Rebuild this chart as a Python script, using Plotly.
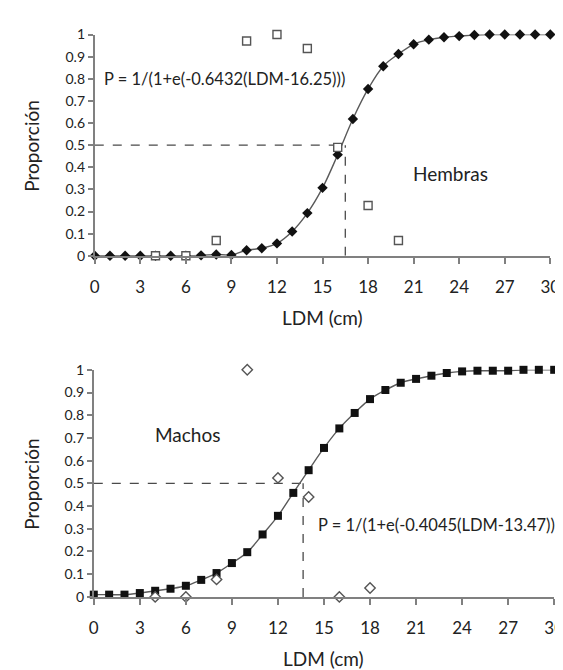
import plotly.graph_objects as go

# ---- data ----
ldm = list(range(0, 31))
hembras_fit = [0, 0, 0, 0, 0, 0, 0, 0.002, 0.006, 0.004, 0.025, 0.034, 0.056, 0.11, 0.193,
               0.307, 0.457, 0.618, 0.754, 0.857, 0.912, 0.956, 0.977, 0.988, 0.993, 0.998,
               1.0, 1.0, 1.0, 1.0, 1.0]
hembras_obs_x = [4, 6, 8, 10, 12, 14, 16, 18, 20]
hembras_obs_y = [0, 0, 0.069, 0.971, 1.0, 0.937, 0.49, 0.227, 0.069]
hembras_l50 = 16.5

machos_fit = [0.01, 0.01, 0.01, 0.017, 0.027, 0.036, 0.049, 0.075, 0.105, 0.149, 0.197,
              0.275, 0.357, 0.458, 0.558, 0.656, 0.742, 0.81, 0.871, 0.911, 0.943, 0.96,
              0.974, 0.986, 0.993, 0.996, 0.996, 0.996, 1.0, 1.0, 1.0]
machos_obs_x = [4, 6, 8, 10, 12, 14, 16, 18]
machos_obs_y = [0, 0, 0.077, 1.0, 0.524, 0.44, 0, 0.039]
machos_l50 = 13.64

x_ticks = [0, 3, 6, 9, 12, 15, 18, 21, 24, 27, 30]
y_ticks = [0, 0.1, 0.2, 0.3, 0.4, 0.5, 0.6, 0.7, 0.8, 0.9, 1]
y_ticktext = ["0", "0.1", "0.2", "0.3", "0.4", "0.5", "0.6", "0.7", "0.8", "0.9", "1"]

FONT = "Lato"
W, H = 563, 670
AX = "#808080"
LINE = "#4a4a4a"
TXT = "#222222"

fig = go.Figure()

def add_panel(xa, ya, fit, fit_symbol, fit_size, obs_x, obs_y, obs_symbol, obs_size, l50):
    # dashed reference lines
    fig.add_trace(go.Scatter(x=[0, l50], y=[0.5, 0.5], mode="lines",
                             line=dict(color=LINE, width=1.3, dash="dash"),
                             xaxis=xa, yaxis=ya, hoverinfo="skip", cliponaxis=False))
    fig.add_trace(go.Scatter(x=[l50, l50], y=[0, 0.5], mode="lines",
                             line=dict(color=LINE, width=1.3, dash="dash"),
                             xaxis=xa, yaxis=ya, hoverinfo="skip", cliponaxis=False))
    # fitted curve
    fig.add_trace(go.Scatter(x=ldm, y=fit, mode="lines+markers",
                             line=dict(color="#5a5a5a", width=1.4, shape="spline"),
                             marker=dict(symbol=fit_symbol, size=fit_size, color="#111111",
                                         line=dict(width=0)),
                             xaxis=xa, yaxis=ya, cliponaxis=False))
    # observed
    fig.add_trace(go.Scatter(x=obs_x, y=obs_y, mode="markers",
                             marker=dict(symbol=obs_symbol, size=obs_size, color="white",
                                         line=dict(color="#555555", width=1.4)),
                             xaxis=xa, yaxis=ya, cliponaxis=False))

add_panel("x", "y", hembras_fit, "diamond", 8, hembras_obs_x, hembras_obs_y, "square", 8,
          hembras_l50)
add_panel("x2", "y2", machos_fit, "square", 8, machos_obs_x, machos_obs_y, "diamond", 8,
          machos_l50)

def px_x(p):
    return p / W

def px_y(p):
    return 1 - p / H

xcommon = dict(range=[0, 30], tickvals=x_ticks, showline=True, linecolor=AX, linewidth=1.8,
               ticks="outside", ticklen=6, tickcolor=AX, tickwidth=1.6, showgrid=False,
               zeroline=False, ticklabelstandoff=9,
               tickfont=dict(family=FONT, size=17, color=TXT))
ycommon = dict(range=[0, 1], tickvals=y_ticks, ticktext=y_ticktext, showline=True,
               linecolor=AX, linewidth=1.8, ticks="outside", ticklen=5, tickcolor=AX,
               tickwidth=1.6, showgrid=False, zeroline=False,
               tickfont=dict(family=FONT, size=14, color=TXT))

top = dict(x0=84, x1=552, y0=18, y1=245)
bot = dict(x0=83, x1=556, y0=362, y1=595)

fig.update_layout(
    width=W, height=H, margin=dict(l=0, r=0, t=0, b=0),
    paper_bgcolor="white", plot_bgcolor="white", showlegend=False,
    xaxis=dict(domain=[px_x(top["x0"]), px_x(top["x1"])], anchor="y", **xcommon),
    yaxis=dict(domain=[px_y(top["y1"]), px_y(top["y0"])], anchor="x", **ycommon),
    xaxis2=dict(domain=[px_x(bot["x0"]), px_x(bot["x1"])], anchor="y2", **xcommon),
    yaxis2=dict(domain=[px_y(bot["y1"]), px_y(bot["y0"])], anchor="x2", **ycommon),
)

anns = []
title_font = dict(family=FONT, size=19, color=TXT)
txt_font = dict(family=FONT, size=16.5, color=TXT)
# axis titles
for b in (top, bot):
    anns.append(dict(text="LDM (cm)", xref="paper", yref="paper",
                     x=px_x((b["x0"] + b["x1"]) / 2), y=px_y(b["y1"] + 63),
                     showarrow=False, font=title_font, xanchor="center", yanchor="middle"))
    anns.append(dict(text="Proporción", xref="paper", yref="paper",
                     x=px_x(19), y=px_y((b["y0"] + b["y1"]) / 2), textangle=-90,
                     showarrow=False, font=title_font, xanchor="center", yanchor="middle"))
# in-plot labels
anns.append(dict(text="P = 1/(1+e(-0.6432(LDM-16.25)))", xref="x", yref="y", x=0.45, y=0.8,
                 xanchor="left", yanchor="middle", showarrow=False, font=txt_font))
anns.append(dict(text="Hembras", xref="x", yref="y", x=23.4, y=0.37,
                 xanchor="center", yanchor="middle", showarrow=False, font=title_font))
anns.append(dict(text="Machos", xref="x2", yref="y2", x=6.1, y=0.717,
                 xanchor="center", yanchor="middle", showarrow=False, font=title_font))
anns.append(dict(text="P = 1/(1+e(-0.4045(LDM-13.47)))", xref="paper", yref="y2",
                 x=1.0, y=0.318, xanchor="right", yanchor="middle", showarrow=False,
                 font=txt_font))
fig.update_layout(annotations=anns)

fig.write_html("out.html")
